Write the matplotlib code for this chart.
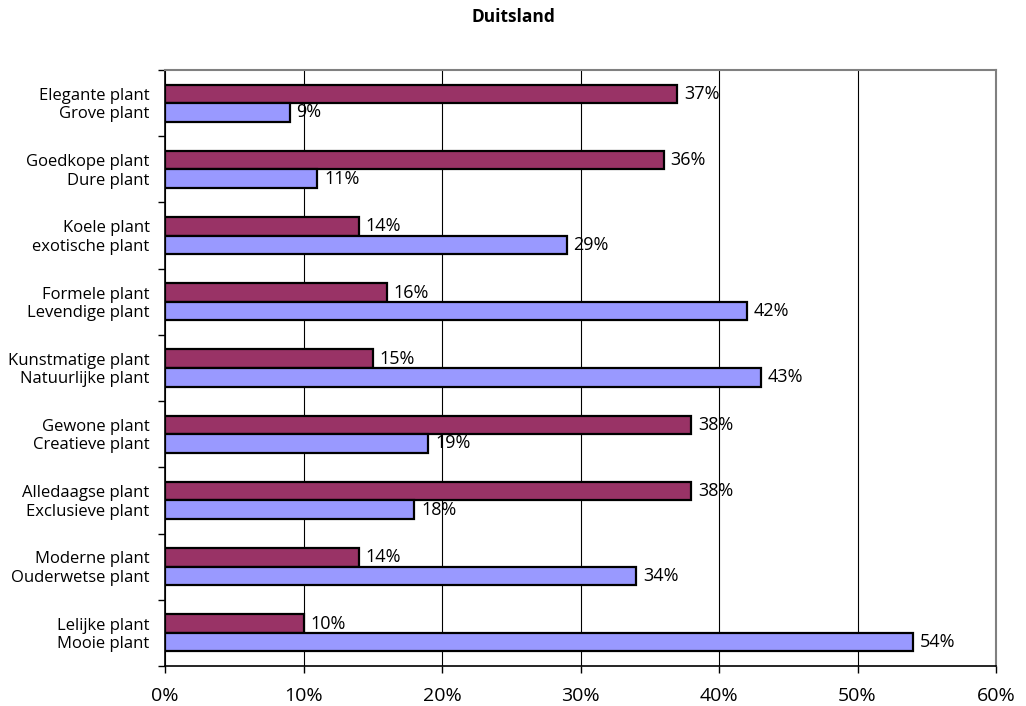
import numpy as np
import matplotlib.pyplot as plt
from matplotlib.ticker import FixedLocator

plt.rcParams['font.family'] = ['Open Sans', 'DejaVu Sans']

# pairs listed bottom to top
top_labels = ['Lelijke plant', 'Moderne plant', 'Alledaagse plant', 'Gewone plant',
              'Kunstmatige plant', 'Formele plant', 'Koele plant', 'Goedkope plant',
              'Elegante plant']
bottom_labels = ['Mooie plant', 'Ouderwetse plant', 'Exclusieve plant', 'Creatieve plant',
                 'Natuurlijke plant', 'Levendige plant', 'exotische plant', 'Dure plant',
                 'Grove plant']
top_values = [10, 14, 38, 38, 15, 16, 14, 36, 37]
bottom_values = [54, 34, 18, 19, 43, 42, 29, 11, 9]
x_ticks = [0, 10, 20, 30, 40, 50, 60]

maroon = '#993366'
lavender = '#9999FF'

fig = plt.figure(figsize=(10.26, 7.06), dpi=100)
ax = fig.add_axes([165 / 1026, 40 / 706, 831 / 1026, 596 / 706])

g = np.arange(len(top_labels))
h = 0.28
y_top = g + 0.5 + h / 2
y_bot = g + 0.5 - h / 2

ax.barh(y_top, top_values, height=h, color=maroon, edgecolor='black', linewidth=1.6, zorder=3)
ax.barh(y_bot, bottom_values, height=h, color=lavender, edgecolor='black', linewidth=1.6, zorder=3)

for y, v in zip(y_top, top_values):
    ax.text(v + 0.5, y, f'{v}%', va='center', ha='left', fontsize=13, zorder=4)
for y, v in zip(y_bot, bottom_values):
    ax.text(v + 0.5, y, f'{v}%', va='center', ha='left', fontsize=13, zorder=4)

ax.set_xlim(0, 60)
ax.set_ylim(0, len(top_labels))
ax.set_xticks(x_ticks)
ax.set_xticklabels([f'{t}%' for t in x_ticks], fontsize=14)
ax.tick_params(axis='x', direction='out', length=5, width=1, pad=10)

# category labels on major ticks (hidden), group boundaries on minor ticks
ticks_y = list(y_bot) + list(y_top)
labels_y = bottom_labels + top_labels
ax.yaxis.set_major_locator(FixedLocator(ticks_y))
ax.set_yticklabels(labels_y, fontsize=12)
ax.tick_params(axis='y', which='major', length=0, pad=11)
ax.yaxis.set_minor_locator(FixedLocator(np.arange(0, len(top_labels) + 1)))
ax.tick_params(axis='y', which='minor', direction='out', length=5, width=1)

ax.grid(axis='x', color='black', linewidth=0.8, zorder=0)
for side in ['top', 'right']:
    ax.spines[side].set_color('#808080')
    ax.spines[side].set_linewidth(1.5)
for side in ['left', 'bottom']:
    ax.spines[side].set_color('black')
    ax.spines[side].set_linewidth(1.2)

fig.text(0.5, 1 - 17 / 706, 'Duitsland', ha='center', va='center', fontsize=12.5, fontweight='bold')

fig.savefig('out.png', dpi=100)
